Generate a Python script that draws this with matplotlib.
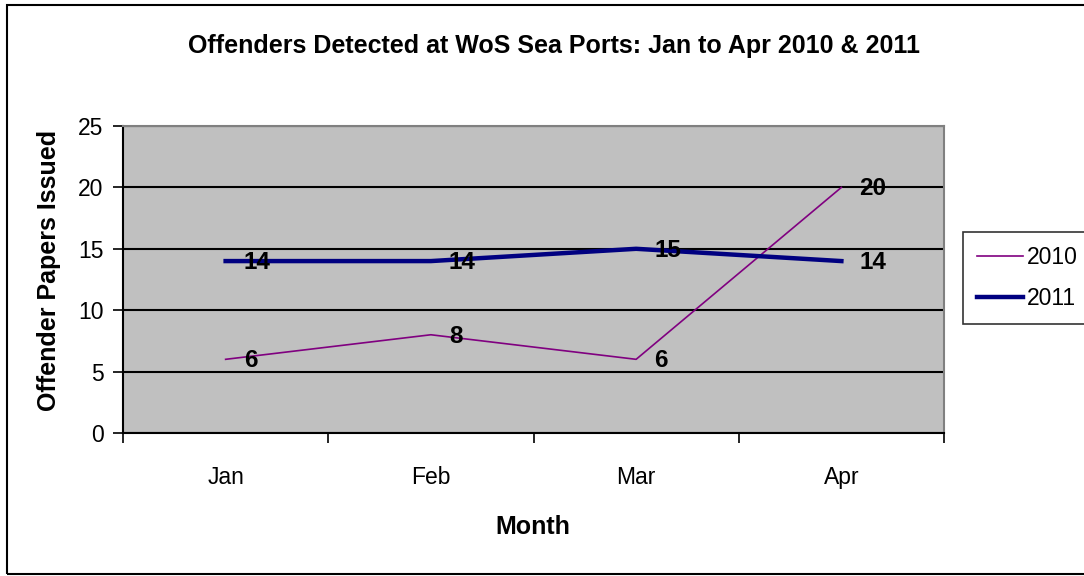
import matplotlib
matplotlib.use("Agg")
import matplotlib.pyplot as plt
from matplotlib.patches import Rectangle

plt.rcParams['font.family'] = ['Liberation Sans', 'DejaVu Sans']

months = ["Jan", "Feb", "Mar", "Apr"]
offenders_2010 = [6, 8, 6, 20]
offenders_2011 = [14, 14, 15, 14]

fig = plt.figure(figsize=(10.84, 5.76), dpi=100)

# outer chart border (right edge runs off the picture)
fig.patches.append(Rectangle((7 / 1084, 2 / 576), 1.1, 1 - 7 / 576, transform=fig.transFigure,
                             fill=False, edgecolor='black', linewidth=1.5, clip_on=False))

ax = fig.add_axes([123 / 1084, 1 - 433 / 576, (944 - 123) / 1084, (433 - 126) / 576])
ax.set_facecolor('#C0C0C0')

x = range(len(months))
ax.plot(x, offenders_2010, color='#800080', linewidth=1.2, label='2010', zorder=3)
ax.plot(x, offenders_2011, color='#000080', linewidth=3.2, label='2011', zorder=3)

# data labels to the right of each point
for series in (offenders_2010, offenders_2011):
    for i, v in enumerate(series):
        ax.annotate(str(v), (i, v), xytext=(13, -1), textcoords='offset points',
                    ha='left', va='center', fontsize=17.5, fontweight='bold', zorder=4)

ax.set_xlim(-0.5, 3.5)
ax.set_ylim(0, 25)
ax.set_yticks([0, 5, 10, 15, 20, 25])
ax.set_xticks(list(x))
ax.set_xticklabels(months)
ax.set_xticks([-0.5, 0.5, 1.5, 2.5, 3.5], minor=True)
ax.tick_params(axis='x', which='major', length=0, pad=24, labelsize=16.5)
ax.tick_params(axis='x', which='minor', length=7, width=1.2, direction='out')
ax.tick_params(axis='y', length=7, width=1.2, direction='out', pad=7, labelsize=16.5)

ax.yaxis.grid(True, color='black', linewidth=1.5)
ax.set_axisbelow(True)
for s in ('left', 'bottom'):
    ax.spines[s].set_color('black')
    ax.spines[s].set_linewidth(1.5)
for s in ('top', 'right'):
    ax.spines[s].set_color('#808080')
    ax.spines[s].set_linewidth(1.5)

fig.text(554 / 1084, 1 - 46 / 576, "Offenders Detected at WoS Sea Ports: Jan to Apr 2010 & 2011",
         ha='center', va='center', fontsize=18, fontweight='bold')
fig.text(533 / 1084, 1 - 527 / 576, "Month", ha='center', va='center', fontsize=18, fontweight='bold')
fig.text(49 / 1084, 1 - 270 / 576, "Offender Papers Issued", ha='center', va='center',
         rotation=90, fontsize=18, fontweight='bold')

leg = ax.legend(loc='center left', bbox_to_anchor=(963 / 1084, 1 - 278 / 576),
                bbox_transform=fig.transFigure, fontsize=16.5, frameon=True, fancybox=False,
                handlelength=2.0, handletextpad=0.2, borderpad=0.6, labelspacing=0.8,
                borderaxespad=0)
leg.get_frame().set_edgecolor('black')
leg.get_frame().set_linewidth(1.2)

fig.savefig("out.png", dpi=100)
